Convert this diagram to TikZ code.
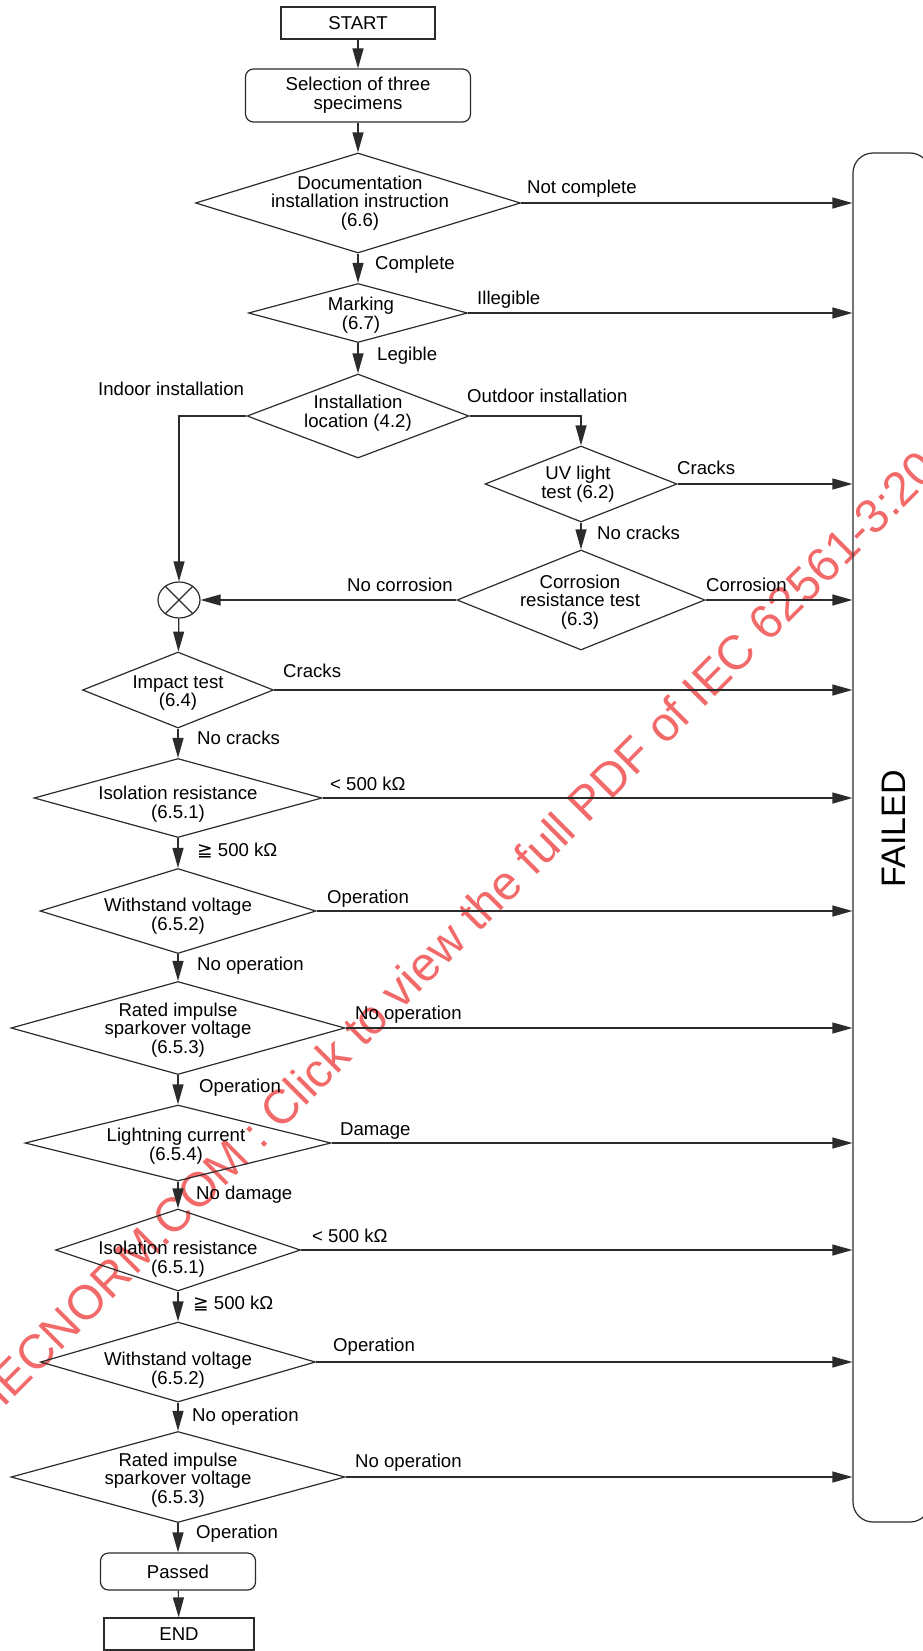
\documentclass[tikz,border=0pt]{standalone}
\usepackage{fontspec}
\setmainfont{Liberation Sans}
\newfontfamily\dvsans{DejaVu Sans}
\usetikzlibrary{shapes.geometric,arrows.meta,calc}
\definecolor{ln}{HTML}{2B2B2B}
\definecolor{wm}{RGB}{242,105,105}
\begin{document}
\begin{tikzpicture}[x=1pt,y=-1pt,
  every node/.style={font=\fontsize{18.6}{18.7}\selectfont},
  dia/.style={draw=ln, line width=1.2pt, shape=diamond, inner sep=0pt},
  txt/.style={align=center, inner sep=0pt},
  box/.style={draw=ln, line width=1.2pt, rectangle, inner sep=0pt, align=center},
  rbox/.style={box, rounded corners=8pt},
  lbl/.style={anchor=base west, inner sep=0pt},
  arr/.style={draw=ln, line width=1.2pt, -{Triangle[length=20pt,width=11pt]}},
  ln/.style={draw=ln, line width=1.2pt}]
\useasboundingbox (0,0) rectangle (923,1651);
% watermark
\node[rotate=45, anchor=base west, inner sep=0pt, text=wm, font=\fontsize{48}{48}\selectfont] (wmk) at (3,1409) {IECNORM.COM : Click to view the full PDF of IEC 62561-3:20};
% top column
\node[box, minimum width=154pt, minimum height=32pt] (start) at (358,23) {START};
\node[rbox, minimum width=225pt, minimum height=53pt] (sel) at (358,95.5) {Selection of three\\specimens};
\node[dia, minimum width=325pt, minimum height=100pt] (d1) at (358,203) {};
\node[txt] at (360,203) {Documentation\\installation instruction\\(6.6)};
\node[dia, minimum width=219pt, minimum height=59pt] (mark) at (358,313) {};
\node[txt] at (361,315) {Marking\\(6.7)};
\node[dia, minimum width=222pt, minimum height=84pt] (inst) at (358,416) {};
\node[txt] at (358,413) {Installation\\location (4.2)};
\node[dia, minimum width=192pt, minimum height=76pt] (uv) at (581,484) {};
\node[txt] at (578,484) {UV light\\test (6.2)};
\node[dia, minimum width=248pt, minimum height=100pt] (corr) at (581,600) {};
\node[txt] at (580,602) {Corrosion\\resistance test\\(6.3)};
\node[draw=ln, line width=1.2pt, ellipse, inner sep=0pt, minimum width=42pt, minimum height=36pt] (circ) at (179,600) {};
\draw[ln] (circ.45) -- (circ.225) (circ.135) -- (circ.315);
% left column
\node[dia, minimum width=191pt, minimum height=76pt] (imp) at (178,690) {};
\node[txt] at (178,693) {Impact test\\(6.4)};
\node[dia, minimum width=288pt, minimum height=79pt] (iso1) at (178,798) {};
\node[txt] at (178,804) {Isolation resistance\\(6.5.1)};
\node[dia, minimum width=276pt, minimum height=85pt] (ws1) at (178,911) {};
\node[txt] at (178,916) {Withstand voltage\\(6.5.2)};
\node[dia, minimum width=334pt, minimum height=93pt] (ri1) at (178,1028) {};
\node[txt] at (178,1030) {Rated impulse\\sparkover voltage\\(6.5.3)};
\node[dia, minimum width=306pt, minimum height=76pt] (lc) at (178,1143) {};
\node[txt] at (176,1146) {Lightning current\\(6.5.4)};
\node[dia, minimum width=245pt, minimum height=82pt] (iso2) at (178,1250) {};
\node[txt] at (178,1259) {Isolation resistance\\(6.5.1)};
\node[dia, minimum width=275pt, minimum height=80pt] (ws2) at (178,1362) {};
\node[txt] at (178,1370) {Withstand voltage\\(6.5.2)};
\node[dia, minimum width=334pt, minimum height=91pt] (ri2) at (178,1477) {};
\node[txt] at (178,1480) {Rated impulse\\sparkover voltage\\(6.5.3)};
\node[rbox, minimum width=155pt, minimum height=37pt] (pass) at (178,1571.5) {Passed};
\node[box, minimum width=150pt, minimum height=32pt] (endb) at (179,1634) {END};
% failed box
\node[draw=ln, line width=1.2pt, rounded corners=20pt, inner sep=0pt, minimum width=77pt, minimum height=1369pt] (fail) at (891.5,837.5) {};
\node[rotate=90, inner sep=0pt, font=\fontsize{34}{34}\selectfont] (failt) at (893.5,828.5) {FAILED};
% vertical connectors
\draw[arr] (start) -- (sel);
\draw[arr] (sel) -- (d1);
\draw[arr] (d1) -- (mark);
\draw[arr] (mark) -- (inst);
\draw[arr] (inst.west) -| (circ.north);
\draw[arr] (inst.east) -| (uv.north);
\draw[arr] (uv) -- (corr);
\draw[arr] (corr.west) -- (circ.east);
\draw[arr] (circ) -- (imp);
\draw[arr] (imp) -- (iso1);
\draw[arr] (iso1) -- (ws1);
\draw[arr] (ws1) -- (ri1);
\draw[arr] (ri1) -- (lc);
\draw[arr] (lc) -- (iso2);
\draw[arr] (iso2) -- (ws2);
\draw[arr] (ws2) -- (ri2);
\draw[arr] (ri2) -- (pass);
\draw[arr] (pass) -- (endb);
% to FAILED
\foreach \n in {d1,mark,uv,corr,imp,iso1,ws1,ri1,lc,iso2,ws2,ri2}
  \draw[arr] (\n.east) -- (\n.east -| fail.west);
% labels
\node[lbl] at (527,193.5) {Not complete};
\node[lbl] at (375,269.5) {Complete};
\node[lbl] at (477,304.5) {Illegible};
\node[lbl] at (377,360.5) {Legible};
\node[lbl] at (98,395.5) {Indoor installation};
\node[lbl] at (467,402.5) {Outdoor installation};
\node[lbl] at (677,474.5) {Cracks};
\node[lbl] at (597,539.5) {No cracks};
\node[lbl] at (347,591.5) {No corrosion};
\node[lbl] at (706,591.5) {Corrosion};
\node[lbl] at (283,677.5) {Cracks};
\node[lbl] at (197,744.5) {No cracks};
\node[lbl] at (330,790.5) {< 500 kΩ};
\node[lbl] at (197,856.5) {{\dvsans ≧} 500 kΩ};
\node[lbl] at (327,903.5) {Operation};
\node[lbl] at (197,970.5) {No operation};
\node[lbl] at (355,1019.5) {No operation};
\node[lbl] at (199,1092.5) {Operation};
\node[lbl] at (340,1135.5) {Damage};
\node[lbl] at (196,1199.5) {No damage};
\node[lbl] at (312,1242.5) {< 500 kΩ};
\node[lbl] at (193,1309.5) {{\dvsans ≧} 500 kΩ};
\node[lbl] at (333,1351.5) {Operation};
\node[lbl] at (192,1421.5) {No operation};
\node[lbl] at (355,1467.5) {No operation};
\node[lbl] at (196,1538.5) {Operation};
\end{tikzpicture}
\end{document}
